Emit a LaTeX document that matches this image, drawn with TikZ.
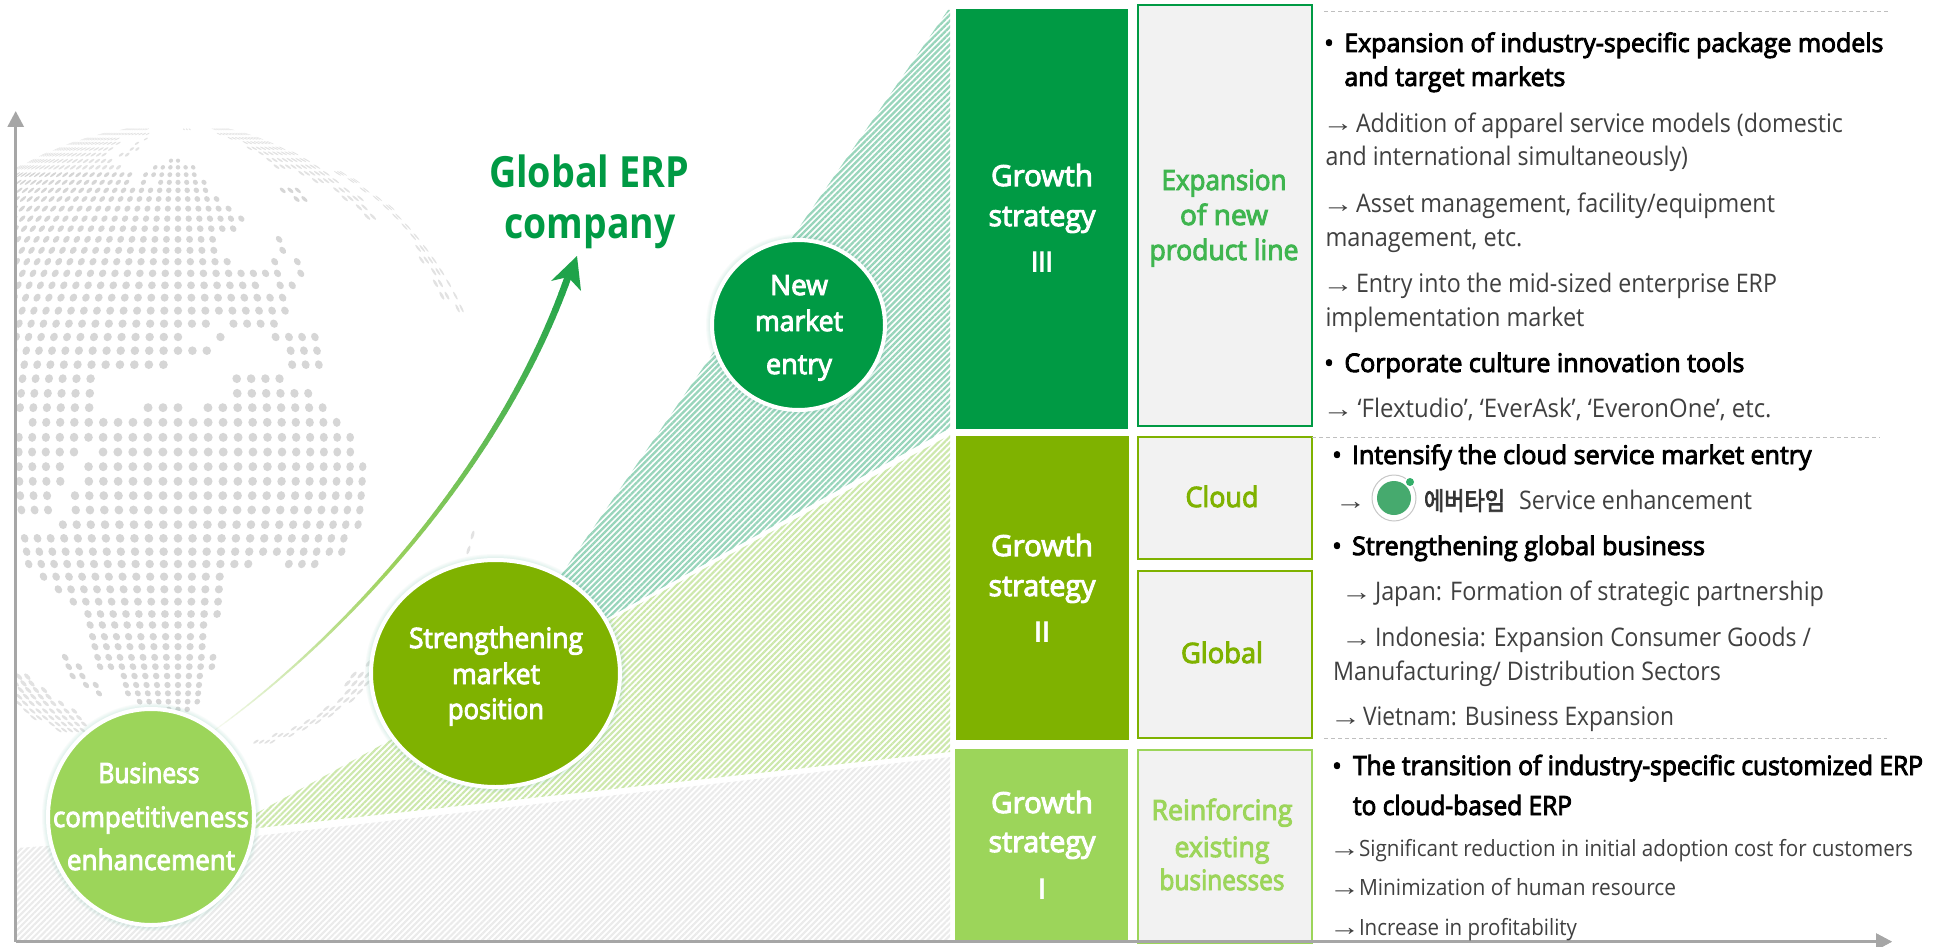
\documentclass[tikz,border=0pt]{standalone}
\usepackage{graphicx}
\usepackage{fontspec}
\usetikzlibrary{shapes.geometric,patterns.meta,arrows.meta}
\setmainfont{Open Sans}
\newfontfamily\semif[FakeBold=3.5]{Open Sans}
\newfontfamily\krf[FakeBold=3]{Noto Sans CJK KR}
\newfontfamily\arrf{Liberation Sans}
\definecolor{gthree}{HTML}{009A44}
\definecolor{gtwo}{HTML}{7FB200}
\definecolor{gone}{HTML}{9CD55A}
\definecolor{txtthree}{HTML}{3FB54F}
\definecolor{boxfill}{HTML}{F2F2F2}
\definecolor{dotc}{HTML}{D6D6D6}
\definecolor{dotf}{HTML}{E2E2E2}
\definecolor{axisc}{HTML}{A6A6A6}
\definecolor{htrip}{HTML}{98D5BB}
\definecolor{hgreen}{HTML}{CDE8AC}
\definecolor{hgray}{HTML}{EBEBEB}
\definecolor{bodyc}{HTML}{404040}
\definecolor{glowc}{HTML}{5FB8A0}
\definecolor{arA}{HTML}{F6FAEF}
\definecolor{arB}{HTML}{9FD25E}
\definecolor{arC}{HTML}{1FA34A}
\definecolor{logoc}{HTML}{46AA6E}
\newcommand\fs[1]{\fontsize{#1pt}{#1pt}\selectfont}
\tikzset{
 x=1pt,y=-1pt,
 tx/.style={anchor=base west,inner sep=0pt,outer sep=0pt},
 cx/.style={anchor=base,inner sep=0pt,outer sep=0pt},
 hd/.style={font=\semif\fs{25.6},text=black},
 hdb/.style={font=\semif\fs{26.5},text=black},
 bd/.style={font=\fs{25.6},text=bodyc},
 bds/.style={font=\fs{22.4},text=bodyc},
 arw/.style={font=\arrf\fs{25},text=bodyc},
 wl/.style={font=\semif\fs{28},text=white},
 wg/.style={font=\semif\fs{29},text=white},
 wn/.style={font=\bfseries\fs{29},text=white},
 colthree/.style={font=\semif\fs{28},text=txtthree},
 coltwo/.style={font=\semif\fs{28},text=gtwo},
 colone/.style={font=\semif\fs{28},text=gone},
 bigt/.style={font=\bfseries\fs{43},text=gthree},
 catbox/.style={fill=#1,draw=none,anchor=north west,inner sep=0pt,outer sep=0pt},
 subbox/.style={fill=boxfill,draw=#1,line width=2pt,anchor=north west,inner sep=0pt,outer sep=0pt},
 bub/.style={ellipse,fill=#1,draw=white,line width=4pt,inner sep=0pt,outer sep=0pt},
 sepline/.style={draw=black!25,line width=1pt,dash pattern=on 4pt off 3pt},
 axisline/.style={draw=axisc,line width=3pt,-{Triangle[length=16pt,width=16pt]}},
}
\newcommand\tl[6]{\node[tx,#5] (#1) at (#2,#3) {\resizebox{#4pt}{\height}{#6}};}
\newcommand\cl[6]{\node[cx,#5] (#1) at (#2,#3) {\resizebox{#4pt}{\height}{#6}};}
\newcommand\arr[3]{\node[tx,arw] (#1) at (#2-3,#3) {\resizebox{31pt}{\height}{→}};}
\newcommand\bul[3]{\node[cx,hd] (#1) at (#2,#3) {•};}
% dot map on an orthographic globe
\newcommand\putdots[3]{%
 \pgfmathsetmacro\sph{(1080-#1)/981}%
 \pgfmathsetmacro\cph{sqrt(1-\sph*\sph)}%
 \pgfmathsetmacro\Yc{-(90+#1/3)}%
 \foreach \kk in {#2,...,#3}{%
  \pgfmathsetmacro\lam{\kk*2.65}%
  \pgfmathsetmacro\sl{sin(\lam)}%
  \pgfmathsetmacro\clm{cos(\lam)}%
  \pgfmathsetmacro\Xc{178+327*\cph*\sl}%
  \pgfmathsetmacro\ea{4.5*\cph*\clm}%
  \pgfmathsetmacro\ec{-4.5*\sph*\sl}%
  \pgfmathsetmacro\ed{4.5*\cph}%
  \pgfpathellipse{\pgfpoint{\Xc pt}{\Yc pt}}{\pgfpoint{\ea pt}{0pt}}{\pgfpoint{\ec pt}{\ed pt}}%
  \pgfusepath{fill}%
 }}
\newcommand\drow[2]{\foreach \ra/\rb in {#2}{\putdots{#1}{\ra}{\rb}}}
\newcommand\xrow[3]{%
 \pgfmathsetmacro\sphx{(1080-#1)/981}%
 \pgfmathsetmacro\cphx{981*sqrt(1-\sphx*\sphx)}%
 \pgfmathtruncatemacro\ka{round(asin((#2-533)/\cphx)/2.65)}%
 \pgfmathtruncatemacro\kb{round(asin((#3-533)/\cphx)/2.65)}%
 \putdots{#1}{\ka}{\kb}}
\begin{document}
\begin{tikzpicture}
\useasboundingbox (0,0) rectangle (1944,947);
\fill[white] (0,0) rectangle (1944,947);
% globe
\begin{scope}
\clip (17,100) rectangle (960,947);
\pgfsetfillcolor{dotf}
\xrow{118}{370}{440}\xrow{118}{550}{570}\xrow{118}{640}{690}
\xrow{132}{300}{440}\xrow{132}{660}{740}
\xrow{147}{250}{350}\xrow{147}{430}{440}\xrow{145}{690}{780}
\xrow{160}{210}{355}\xrow{160}{415}{415}\xrow{158}{730}{810}
\xrow{177}{170}{330}\xrow{177}{395}{405}\xrow{175}{750}{850}
\xrow{194}{130}{280}\xrow{194}{300}{310}\xrow{194}{365}{385}\xrow{190}{780}{880}
\xrow{213}{90}{270}\xrow{213}{290}{320}\xrow{210}{800}{920}
\xrow{232}{55}{215}\xrow{232}{240}{355}\xrow{230}{835}{950}
\xrow{250}{910}{980}\xrow{250}{1010}{1030}
\xrow{272}{950}{1010}\xrow{272}{1055}{1065}
\xrow{300}{1010}{1045}\xrow{300}{1085}{1095}
\xrow{325}{1035}{1075}\xrow{325}{1125}{1135}
\xrow{352}{1075}{1100}\xrow{352}{1160}{1170}
\xrow{380}{1105}{1110}\xrow{380}{1185}{1195}
\xrow{410}{1210}{1225}\xrow{440}{1240}{1250}\xrow{475}{1255}{1280}
\xrow{510}{1265}{1300}\xrow{545}{1300}{1325}
\xrow{580}{1312}{1315}\xrow{580}{1345}{1345}
\xrow{617}{1320}{1335}\xrow{617}{1365}{1365}\xrow{655}{1368}{1385}
\xrow{1335}{1420}{1420}\xrow{1380}{1405}{1405}\xrow{1720}{1095}{1095}
\xrow{1755}{1060}{1100}\xrow{1780}{1050}{1095}\xrow{1805}{1045}{1085}
\xrow{1830}{1020}{1060}\xrow{1855}{985}{1015}\xrow{1875}{955}{985}
\xrow{1895}{915}{950}\xrow{1915}{885}{915}\xrow{1935}{830}{870}\xrow{1955}{770}{810}
\xrow{1760}{55}{70}\xrow{1780}{55}{100}\xrow{1800}{60}{120}\xrow{1820}{60}{150}
\xrow{1840}{60}{190}\xrow{1863}{75}{215}\xrow{1883}{100}{238}\xrow{1902}{150}{250}\xrow{1920}{180}{240}
\pgfsetfillcolor{dotc}
\drow{212}{-1/0}
\drow{232}{-3/2}
\drow{254}{-30/-6,-4/2}
\drow{277}{-30/-6,-4/-4,-2/3}
\drow{301}{-30/3,12/14}
\drow{327}{-30/4,13/14}
\drow{356}{-30/5}
\drow{386}{-30/6}
\drow{416}{-30/5}
\drow{448}{-30/3,9/9}
\drow{481}{-30/3,9/9}
\drow{515}{-30/4,8/8,10/10}
\drow{550}{-30/8,10/10}
\drow{586}{-30/6,8/9}
\drow{623}{-30/8}
\drow{662}{-30/8}
\drow{701}{-30/2,4/7}
\drow{741}{-30/0,3/3,7/10}
\drow{782}{-30/2,8/10}
\drow{824}{-30/-1,8/10}
\drow{866}{-11/-6,4/7}
\drow{910}{-11/-6,4/9}
\drow{953}{-11/-6,-2/0,2/10}
\drow{997}{-10/11}
\drow{1042}{-11/12}
\drow{1086}{-11/-7,-5/12}
\drow{1130}{-11/-8,-6/13}
\drow{1174}{-11/-8,-6/13}
\drow{1217}{-11/-9,-7/13}
\drow{1260}{-11/-9,-7/13}
\drow{1304}{-8/13}
\drow{1345}{-12/12}
\drow{1385}{-11/12}
\drow{1422}{-11/5,8/10}
\drow{1460}{-10/3}
\drow{1498}{-9/3}
\drow{1535}{-8/3}
\drow{1572}{-7/3}
\drow{1605}{-7/2}
\drow{1640}{-7/2}
\drow{1670}{-7/2}
\drow{1702}{-7/3}
\drow{1730}{-7/3}
\drow{1758}{-5/2}
\drow{1785}{-5/2}
\drow{1810}{-5/2}
\drow{1835}{-4/2}
\drow{1858}{-1/1}
\xrow{1702}{200}{200}\xrow{1730}{213}{240}\xrow{1758}{230}{258}\xrow{1785}{270}{295}\xrow{1810}{285}{310}
\end{scope}
% hatched wedges
\fill[pattern={Lines[angle=45,distance=4.2pt,line width=2.1pt]},pattern color=hgray]
 (17,848) -- (46,846) -- (256,836) -- (950,757) -- (950,940) -- (17,940) -- cycle;
\fill[pattern={Lines[angle=45,distance=4.2pt,line width=2.1pt]},pattern color=hgreen]
 (222,832) -- (775,530) -- (950,435) -- (950,752) -- cycle;
\fill[pattern={Lines[angle=45,distance=4.2pt,line width=2.3pt]},pattern color=htrip]
 (485,686) -- (948,10) -- (950,10) -- (950,428) -- cycle;
% axes
\coordinate (origin) at (15.7,941.7);
\coordinate (ytop) at (15.7,111);
\coordinate (xend) at (1892,941.7);
\draw[axisline] (origin) -- (ytop);
\draw[axisline] (origin) -- (xend);
% rising arrow
\foreach \i in {0,...,69}{
 \pgfmathsetmacro\ta{\i/70}
 \pgfmathsetmacro\tb{(\i+1)/70}
 \pgfmathsetmacro\xa{(1-\ta)^3*215+3*(1-\ta)^2*\ta*340+3*(1-\ta)*\ta^2*500+\ta^3*568}
 \pgfmathsetmacro\ya{(1-\ta)^3*730+3*(1-\ta)^2*\ta*640+3*(1-\ta)*\ta^2*470+\ta^3*277}
 \pgfmathsetmacro\xb{(1-\tb)^3*215+3*(1-\tb)^2*\tb*340+3*(1-\tb)*\tb^2*500+\tb^3*568}
 \pgfmathsetmacro\yb{(1-\tb)^3*730+3*(1-\tb)^2*\tb*640+3*(1-\tb)*\tb^2*470+\tb^3*277}
 \pgfmathsetmacro\wd{1+6*\ta}
 \pgfmathtruncatemacro\mx{\i<30 ? 100*\i/30 : 100*(\i-30)/40}
 \ifnum\i<30 \colorlet{segc}{arB!\mx!arA}\else\colorlet{segc}{arC!\mx!arB}\fi
 \draw[segc,line width=\wd pt,line cap=round] (\xa,\ya) -- (\xb,\yb);
}
\fill[arC] (577,256) -- (551,281) -- (568,277) -- (581,291) -- cycle;
% glows
\foreach \g in {1,...,4}{
 \fill[glowc,opacity=0.045] (151,817) ellipse [x radius=105+\g,y radius=110+\g];
 \fill[glowc,opacity=0.045] (495.5,673.5) ellipse [x radius=126.5+\g,y radius=115.5+\g];
 \fill[glowc,opacity=0.045] (798.5,325) ellipse [x radius=88.5+\g,y radius=87+\g];
}
% bubbles
\node[bub=gone,minimum width=206pt,minimum height=216pt] (bizc) at (151,817) {};
\node[bub=gtwo,minimum width=249pt,minimum height=227pt] (mktc) at (495.5,673.5) {};
\node[bub=gthree,minimum width=173pt,minimum height=170pt] (newc) at (798.5,325) {};
\cl{b1}{149}{783}{101}{wl}{Business}
\cl{b2}{151}{827}{196}{wl}{competitiveness}
\cl{b3}{151}{870}{168}{wl}{enhancement}
\cl{m1}{496}{648}{174}{wl}{Strengthening}
\cl{m2}{496}{684}{88}{wl}{market}
\cl{m3}{496}{719}{96}{wl}{position}
\cl{n1}{799}{295}{58}{wl}{New}
\cl{n2}{799}{331}{88}{wl}{market}
\cl{n3}{799}{374}{66}{wl}{entry}
\cl{g1}{589}{187}{200}{bigt}{Global ERP}
\cl{g2}{590}{238}{171}{bigt}{company}
% strategy bars
\node[catbox=gthree,minimum width=172pt,minimum height=420pt] (s3) at (956,9) {};
\node[catbox=gtwo,minimum width=173pt,minimum height=304pt] (s2) at (956,436) {};
\node[catbox=gone,minimum width=173pt,minimum height=193pt] (s1) at (955,749) {};
\cl{s3a}{1042}{186}{102}{wg}{Growth}
\cl{s3b}{1042}{226}{107}{wg}{strategy}
\cl{s3c}{1042}{272}{22}{wn}{III}
\cl{s2a}{1042}{556}{102}{wg}{Growth}
\cl{s2b}{1042}{596}{107}{wg}{strategy}
\cl{s2c}{1042}{642}{16}{wn}{II}
\cl{s1a}{1042}{813}{102}{wg}{Growth}
\cl{s1b}{1042}{852}{107}{wg}{strategy}
\cl{s1c}{1042}{899}{8}{wn}{I}
% sub boxes
\node[subbox=gthree,minimum width=174pt,minimum height=420pt] (expb) at (1137.5,5.5) {};
\node[subbox=gtwo,minimum width=174pt,minimum height=122pt] (clob) at (1137.5,437) {};
\node[subbox=gtwo,minimum width=174pt,minimum height=167pt] (glob) at (1137.5,570.5) {};
\node[subbox=gone,minimum width=174pt,minimum height=193pt] (reib) at (1137.5,749.5) {};
\cl{e1}{1224}{190}{125}{colthree}{Expansion}
\cl{e2}{1224}{225}{88}{colthree}{of new}
\cl{e3}{1224}{260}{149}{colthree}{product line}
\cl{c1}{1222}{507}{73}{coltwo}{Cloud}
\cl{c2}{1222}{663}{82}{coltwo}{Global}
\cl{r1}{1222}{820}{141}{colone}{Reinforcing}
\cl{r2}{1222}{857}{95}{colone}{existing}
\cl{r3}{1222}{890}{125}{colone}{businesses}
% axes drawn again over the bars
\draw[axisline] (origin) -- (xend);
% separators
\coordinate (sa) at (1324,12); \coordinate (sb) at (1890,12);
\coordinate (sc) at (1312,437); \coordinate (sd) at (1880,437);
\coordinate (se) at (1324,738); \coordinate (sf) at (1887,738);
\draw[sepline] (sa) -- (sb);
\draw[sepline] (sc) -- (sd);
\draw[sepline] (se) -- (sf);
% section III text
\bul{u1}{1329}{52}
\tl{t1}{1344.4}{52}{539}{hd}{Expansion of industry-specific package models}
\tl{t2}{1344.4}{86}{221}{hd}{and target markets}
\arr{a1}{1325.5}{132}
\tl{t3}{1356}{132}{487}{bd}{Addition of apparel service models (domestic}
\tl{t4}{1325.5}{166}{362.5}{bd}{and international simultaneously)}
\arr{a2}{1325.5}{212}
\tl{t5}{1356}{212}{419}{bd}{Asset management, facility/equipment}
\tl{t6}{1325.5}{246}{197}{bd}{management, etc.}
\arr{a3}{1325.5}{292}
\tl{t7}{1356}{292}{421}{bd}{Entry into the mid-sized enterprise ERP}
\tl{t8}{1325.5}{326}{259}{bd}{implementation market}
\bul{u2}{1329}{372}
\tl{t9}{1344.4}{372}{400}{hd}{Corporate culture innovation tools}
\arr{a4}{1325.5}{417}
\tl{t10}{1357.6}{417}{414}{bd}{‘Flextudio’, ‘EverAsk’, ‘EveronOne’, etc.}
% section II text
\bul{u3}{1337}{464}
\tl{t11}{1352}{464}{459.6}{hd}{Intensify the cloud service market entry}
\arr{a5}{1338}{509}
\draw[black!22,line width=1pt] (1394,498) ellipse [x radius=22,y radius=23];
\fill[logoc] (1394,498) circle [radius=17];
\fill[white] (1410,482) circle [radius=5.5];
\fill[gthree!80!white] (1410,482) circle [radius=4];
\tl{kr}{1424}{510}{81}{font=\krf\fs{25},text=black!80}{에버타임}
\tl{t12}{1519}{509}{233}{bd}{Service enhancement}
\bul{u4}{1337}{555}
\tl{t13}{1352}{555}{353}{hd}{Strengthening global business}
\arr{a6}{1344}{600}
\tl{t14}{1375}{600}{449}{bd}{Japan: Formation of strategic partnership}
\arr{a7}{1344}{646}
\tl{t15}{1375}{646}{436}{bd}{Indonesia: Expansion Consumer Goods /}
\tl{t16}{1333}{680}{388}{bd}{Manufacturing/ Distribution Sectors}
\arr{a8}{1333}{725}
\tl{t17}{1363}{725}{311}{bd}{Vietnam: Business Expansion}
% section I text
\bul{u5}{1337}{775}
\tl{t18}{1353}{775}{570}{hdb}{The transition of industry-specific customized ERP}
\tl{t19}{1353}{815}{219}{hdb}{to cloud-based ERP}
\arr{a9}{1332}{856}
\tl{t20}{1359}{856}{554}{bds}{Significant reduction in initial adoption cost for customers}
\arr{a10}{1332}{895}
\tl{t21}{1359}{895}{317}{bds}{Minimization of human resource}
\arr{a11}{1332}{935}
\tl{t22}{1359}{935}{218}{bds}{Increase in profitability}
\end{tikzpicture}
\end{document}
